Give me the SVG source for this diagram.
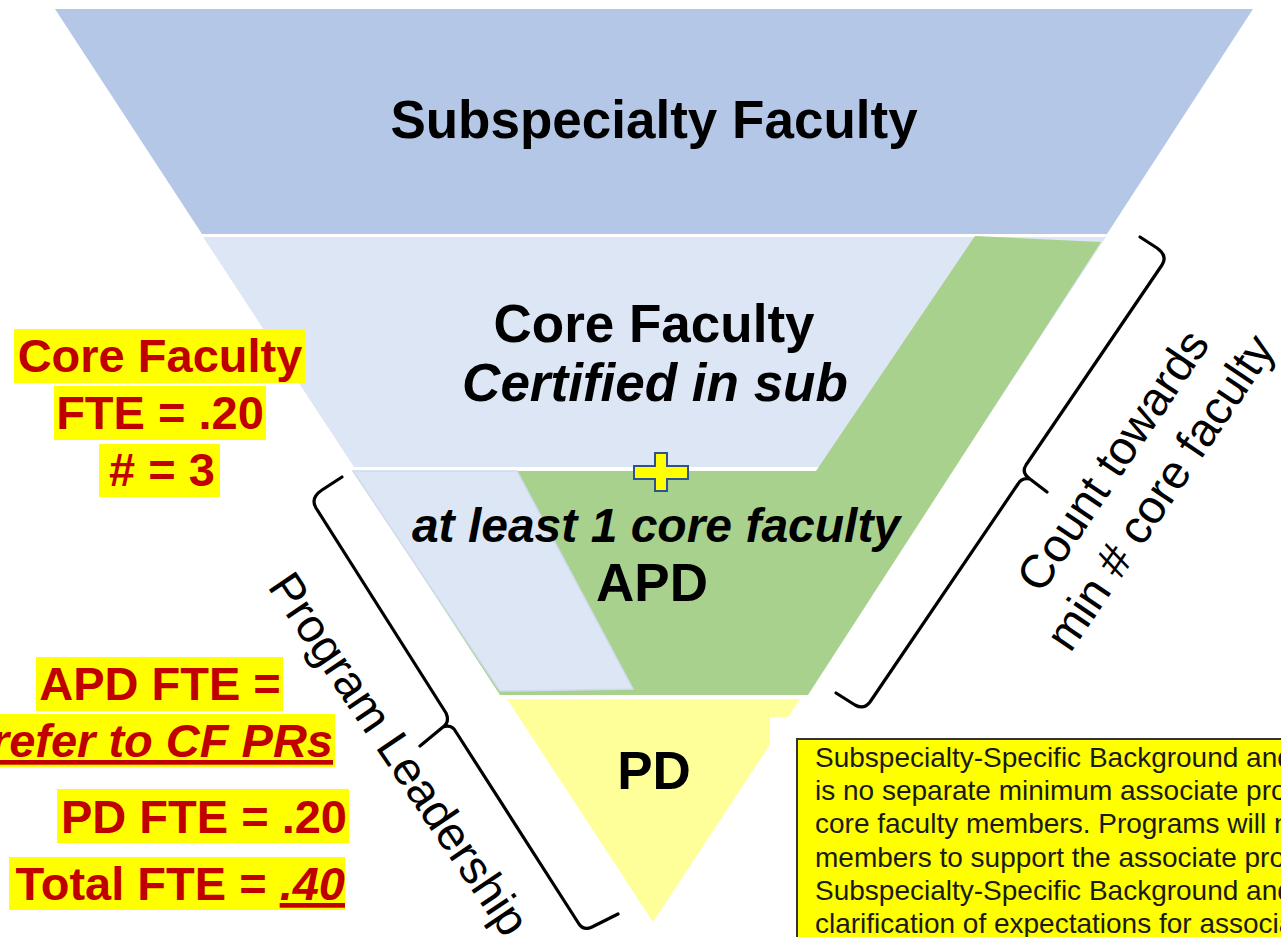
<svg xmlns="http://www.w3.org/2000/svg" width="1281" height="937" viewBox="0 0 1281 937">
<style>
text{font-family:"Liberation Sans",Arial,sans-serif;}
.big{font-size:53px;font-weight:bold;fill:#000;text-anchor:middle;}
.bi{font-style:italic;}
.red{font-size:47px;font-weight:bold;fill:#c00000;}
.hl{fill:#ffff00;}
.brk{fill:none;stroke:#000;stroke-width:3.2;stroke-linecap:round;stroke-linejoin:round;}
.side{font-size:47px;fill:#000;text-anchor:middle;}
.note{font-size:28px;fill:#1a1a1a;}
</style>
<rect width="1281" height="937" fill="#fff"/>

<g id="subspecialty">
<polygon points="55,9 1253,9 1107,234 202,234" fill="#b4c7e7"/>
<text class="big" x="654" y="138">Subspecialty Faculty</text>
</g>

<g id="core">
<polygon points="203,237 1106,237 955,467 354,467" fill="#dce6f4"/>
</g>

<g id="green">
<polygon points="975,236 1101,242 808,695 500,695 354,471 816,471" fill="#a9d18e"/>
</g>

<g id="apd-blue">
<polygon points="353,471 517,471 633,689 500,691" fill="#dce6f4" stroke="#cfdaef" stroke-width="1.5"/>
</g>

<g id="core-text">
<text class="big" x="654" y="342">Core Faculty</text>
<text class="big bi" x="655" y="401">Certified in sub</text>
</g>

<g id="plus">
<polygon points="655,453 667,453 667,466 688,466 688,479 667,479 667,491 655,491 655,479 634,479 634,466 655,466" fill="#ffff00" stroke="#2f528f" stroke-width="2"/>
</g>

<g id="apd-text">
<text class="big bi" x="656" y="542" style="font-size:48px">at least 1 core faculty</text>
<text class="big" x="652" y="601">APD</text>
</g>

<g id="pd">
<polygon points="507,699 800,699 653,922" fill="#ffff99"/>
<text class="big" x="654" y="789">PD</text>
</g>

<g id="note">
<rect x="770" y="717" width="520" height="230" fill="#fff"/>
<rect x="797" y="739" width="600" height="300" fill="#ffff00" stroke="#333" stroke-width="2"/>
<text class="note" x="815" y="767">Subspecialty-Specific Background and</text>
<text class="note" x="815" y="800">is no separate minimum associate pro</text>
<text class="note" x="815" y="833">core faculty members. Programs will n</text>
<text class="note" x="815" y="867">members to support the associate pro</text>
<text class="note" x="815" y="900">Subspecialty-Specific Background and</text>
<text class="note" x="815" y="933">clarification of expectations for associa</text>
</g>

<g id="left-labels">
<rect class="hl" x="14" y="329" width="291" height="54"/>
<text class="red" x="160" y="372" text-anchor="middle">Core Faculty</text>
<rect class="hl" x="54" y="386" width="212" height="54"/>
<text class="red" x="160" y="429" text-anchor="middle">FTE = .20</text>
<rect class="hl" x="99" y="444" width="121" height="53"/>
<text class="red" x="162" y="486" text-anchor="middle"># = 3</text>
<rect class="hl" x="36" y="657" width="247" height="54"/>
<text class="red" x="160" y="700" text-anchor="middle">APD FTE =</text>
<rect class="hl" x="0" y="714" width="335" height="53"/>
<text class="red" x="333" y="757" text-anchor="end" font-style="italic" text-decoration="underline">refer to CF PRs</text>
<rect class="hl" x="57" y="789" width="292" height="54"/>
<text class="red" x="347" y="833" text-anchor="end">PD FTE = .20</text>
<rect class="hl" x="9" y="857" width="336" height="53"/>
<text class="red" x="345" y="900" text-anchor="end">Total FTE = <tspan font-style="italic" text-decoration="underline">.40</tspan></text>
</g>

<g id="connectors">
<path class="brk" d="M1140,237 L1157,248 Q1168,256 1162,265 L1026,465 Q1021,473 1030,479 L1047,492 M1030,479 Q1022,477 1018,484 L870,702 Q864,710 855,705 L836,693"/>
<path class="brk" d="M342,477 L322,490 Q310,498 316,508 L446,713 Q450,722 443,727 L420,746 M443,727 Q452,724 456,732 L579,924 Q584,931 592,927 L618,914"/>
</g>

<g id="program-leadership">
<text class="side" transform="translate(399,754) rotate(56)" x="0" y="16">Program Leadership</text>
</g>

<g id="count-towards">
<g transform="translate(1136,476) rotate(-56)">
<text class="side" x="0" y="-12">Count towards</text>
<text class="side" x="0" y="45">min # core faculty</text>
</g>
</g>
</svg>
